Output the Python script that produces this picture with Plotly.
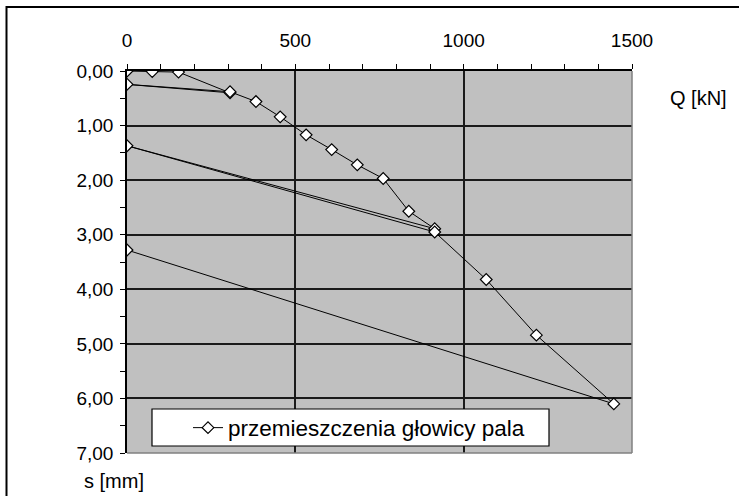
import plotly.graph_objects as go

# Load Q [kN] and head settlement s [mm], in test order (load/unload cycles)
Q = [0, 75, 153, 306, 0, 306, 383, 455, 532, 608, 684, 761, 837, 914, 0, 914, 1067, 1216, 1446, 0]
s = [0.00, 0.01, 0.02, 0.40, 0.245, 0.38, 0.56, 0.84, 1.17, 1.44, 1.72, 1.97, 2.57, 2.89, 1.37, 2.95, 3.82, 4.84, 6.10, 3.28]

x_ticks = [0, 500, 1000, 1500]
y_ticks = [0, 1, 2, 3, 4, 5, 6, 7]
y_tick_labels = ["0,00", "1,00", "2,00", "3,00", "4,00", "5,00", "6,00", "7,00"]
series_name = "przemieszczenia głowicy pala"

FONT = "Liberation Sans, Arial, sans-serif"

W, H = 739, 496
L, R, T, B = 127, 107, 71, 43
PW, PH = W - L - R, H - T - B

def px(xp):
    return (xp - L) / PW

def py(yp):
    return 1 - (yp - T) / PH

fig = go.Figure()
fig.add_trace(go.Scatter(
    x=Q, y=s, mode="lines+markers", name=series_name,
    line=dict(color="black", width=1),
    marker=dict(symbol="diamond", size=9, color="white", line=dict(color="black", width=1.2)),
))

fig.update_layout(
    width=W, height=H,
    margin=dict(l=L, r=R, t=T, b=B, pad=0),
    paper_bgcolor="white",
    plot_bgcolor="#C0C0C0",
    font=dict(family=FONT, color="black", size=19),
    showlegend=True,
    legend=dict(
        x=px(188), y=py(428), xanchor="left", yanchor="middle",
        bgcolor="rgba(0,0,0,0)", borderwidth=0,
        font=dict(size=22.5, family=FONT, color="black"),
    ),
    xaxis=dict(
        side="top", range=[0, 1500], tickvals=x_ticks,
        ticks="outside", ticklen=5, tickcolor="black", tickwidth=1,
        showline=True, linecolor="black", linewidth=1.5,
        showgrid=True, gridcolor="#1a1a1a", gridwidth=1.5,
        zeroline=False, ticklabelstandoff=10,
        minor=dict(ticks="outside", dtick=100, ticklen=5, tickcolor="black", showgrid=False),
        tickfont=dict(size=19),
    ),
    yaxis=dict(
        range=[7, 0], tickvals=y_ticks, ticktext=y_tick_labels,
        ticks="outside", ticklen=5, tickcolor="black", tickwidth=1,
        showline=True, linecolor="black", linewidth=1.5,
        showgrid=True, gridcolor="#1a1a1a", gridwidth=1.5,
        zeroline=False, ticklabelstandoff=3,
        minor=dict(ticks="outside", dtick=0.5, ticklen=5, tickcolor="black", showgrid=False),
        tickfont=dict(size=19),
    ),
    shapes=[
        # legend box
        dict(type="rect", xref="paper", yref="paper", x0=px(152), x1=px(549), y0=py(446), y1=py(409),
             fillcolor="white", line=dict(color="black", width=1.2), layer="above"),
        # gray right and bottom plot border
        dict(type="line", xref="paper", yref="paper", x0=1, x1=1, y0=0, y1=1,
             line=dict(color="#808080", width=1.5)),
        dict(type="line", xref="paper", yref="paper", x0=0, x1=1, y0=0, y1=0,
             line=dict(color="#808080", width=1.5)),
        # outer chart border (left and top visible)
        dict(type="path", xref="paper", yref="paper",
             path=f"M {px(6.5)} {py(520)} L {px(6.5)} {py(7)} L {px(760)} {py(7)}",
             line=dict(color="black", width=2)),
    ],
    annotations=[
        dict(text="Q [kN]", xref="paper", yref="paper", x=px(698), y=py(98),
             xanchor="center", yanchor="middle", showarrow=False, font=dict(size=20)),
        dict(text="s [mm]", xref="paper", yref="paper", x=px(114), y=py(481),
             xanchor="center", yanchor="middle", showarrow=False, font=dict(size=20)),
    ],
)

fig.write_html("out.html")
